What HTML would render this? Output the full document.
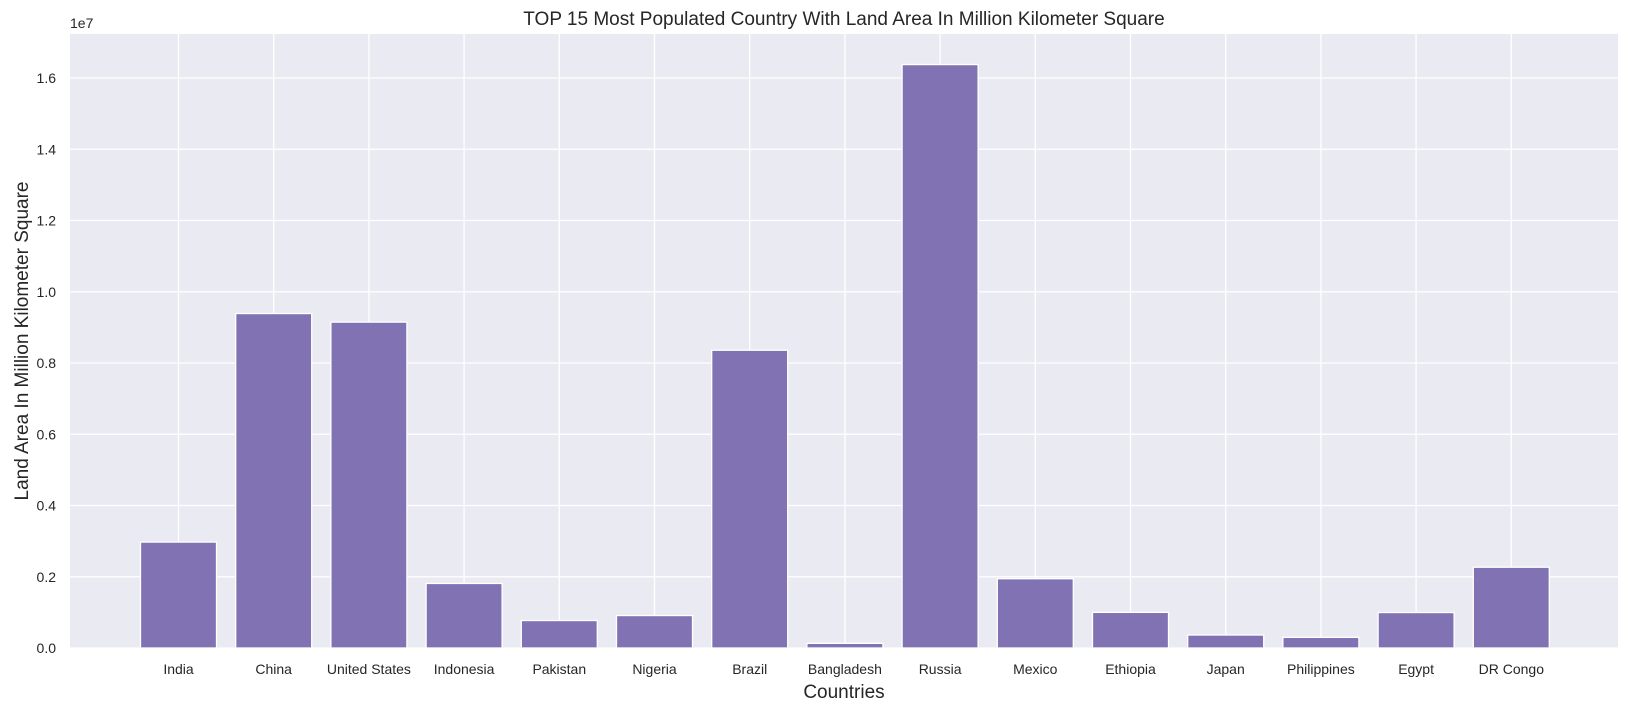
<!DOCTYPE html>
<html><head><meta charset="utf-8"><style>
body{margin:0;background:#fff;font-family:"Liberation Sans",sans-serif;}
svg text{fill:#262626;font-family:"Liberation Sans",sans-serif;}
</style></head><body>
<svg width="1629" height="711" xmlns="http://www.w3.org/2000/svg" id="chart">
<rect x="70" y="34" width="1548" height="614" fill="#eaeaf2"/>
<g id="grid"></g><g id="bars"></g><g id="ticks"></g>
<text x="844" y="25" font-size="19" text-anchor="middle">TOP 15 Most Populated Country With Land Area In Million Kilometer Square</text>
<text x="70" y="28" font-size="14">1e7</text>
<text x="844" y="698" font-size="19" text-anchor="middle">Countries</text>
<text transform="translate(28,341) rotate(-90)" font-size="19" text-anchor="middle">Land Area In  Million Kilometer Square</text>
</svg>
<script>
const categories=["India","China","United States","Indonesia","Pakistan","Nigeria","Brazil","Bangladesh","Russia","Mexico","Ethiopia","Japan","Philippines","Egypt","DR Congo"];
const values=[2973190,9388211,9147420,1811570,770880,910770,8358140,130170,16376870,1943950,1000000,364555,298170,995450,2267050];
const yTicks=[0,0.2,0.4,0.6,0.8,1.0,1.2,1.4,1.6];
const yTickLabels=["0.0","0.2","0.4","0.6","0.8","1.0","1.2","1.4","1.6"];
const NS="http://www.w3.org/2000/svg";
const x0=178.5,step=95.2,bw=76;
function xs(i){return x0+i*step;}
function ys(v){return 648-(v/1e7)/0.2*71.25;}
function mk(tag,attrs,parent){const e=document.createElementNS(NS,tag);for(const k in attrs)e.setAttribute(k,attrs[k]);document.getElementById(parent).appendChild(e);return e;}
yTicks.forEach((t,i)=>{
  const y=ys(t*1e7);
  const l=mk('line',{x1:70,x2:1618,y1:y,y2:y,stroke:'#fff','stroke-width':1.3},'grid');
  
  
  const tx=mk('text',{x:56,y:y+5,'font-size':14,'text-anchor':'end'},'ticks');
  tx.textContent=yTickLabels[i];
  
  
});
categories.forEach((c,i)=>{
  const x=xs(i);
  const l=mk('line',{x1:x,x2:x,y1:34,y2:648,stroke:'#fff','stroke-width':1.3},'grid');
  
  
  const y=ys(values[i]);
  const r=mk('rect',{x:x-bw/2,y:y,width:bw,height:648-y,fill:'#8172b3',stroke:'#fff','stroke-width':1.3},'bars');
  
  
  const tx=mk('text',{x:x,y:674,'font-size':14,'text-anchor':'middle'},'ticks');
  tx.textContent=c;
  
  
});
</script>
</body></html>
